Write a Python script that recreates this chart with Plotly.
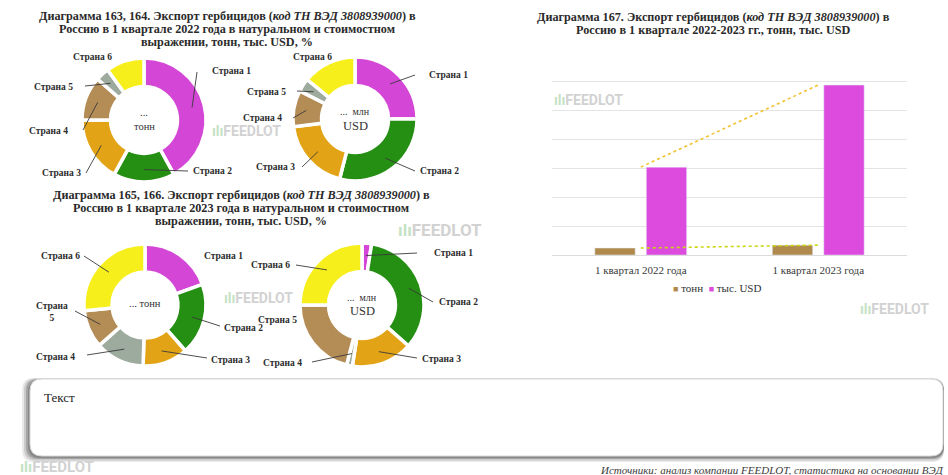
import math
import plotly.graph_objects as go

W, H = 948, 475

# ---------------- data ----------------
countries = ["Страна 1", "Страна 2", "Страна 3", "Страна 4", "Страна 5", "Страна 6"]

share_2022_tonn = [42.0, 16.0, 17.0, 11.5, 3.5, 10.0]
share_2022_usd = [25.0, 29.0, 19.0, 9.5, 3.5, 14.0]
share_2023_tonn = [19.5, 19.0, 12.0, 13.0, 10.0, 26.5]
share_2023_usd = [2.5, 34.0, 16.0, 1.5, 21.0, 25.0]

quarters = ["1 квартал 2022 года", "1 квартал 2023 года"]
volume_tonn = [24, 34]
value_usd = [303, 586]

MAGENTA, GREEN, GOLD, TAN, GREY, YELLOW = (
    "#d447d6", "#248f12", "#e2a416", "#b48c55", "#9daa9e", "#f6ef1c")
colors_a = [MAGENTA, GREEN, GOLD, TAN, GREY, YELLOW]
colors_b = [MAGENTA, GREEN, GOLD, GREY, TAN, YELLOW]
TONN_COLOR, USD_COLOR = "#b08a4c", "#dc4ade"

SERIF = "Liberation Serif"


def px(x):
    return x / W


def py(y):
    return 1 - y / H


fig = go.Figure()
shapes = []
annotations = []

# ---------------- watermarks (drawn first, under everything else) ----------------
marks = [(210, 131, 14), (552, 100, 14), (396, 230, 17), (222, 298, 14),
         (858, 309, 14), (18, 467, 15)]
for x, y, s in marks:
    annotations.append(dict(
        x=px(x), y=py(y), xref="paper", yref="paper",
        text='<span style="color:#c4e3c4">ılı</span>FEEDLOT',
        showarrow=False, xanchor="left", yanchor="middle",
        font=dict(family="Roboto", size=s, color="#d2d2d2", weight=700)))

# ---------------- donuts ----------------
donuts = [
    dict(values=share_2022_tonn, colors=colors_a, cx=144, cy=120, r=62,
         center=[("...", 112, 10.5), ("тонн", 126, 10.5)],
         labels=[(210, 71, "left", (197, 72)),
                 (191, 171, "left", (188, 171)),
                 (83, 173, "right", (86, 173)),
                 (70, 131, "right", (83, 130)),
                 (75, 87, "right", (85, 86)),
                 (92, 57, "center", None)]),
    dict(values=share_2022_usd, colors=colors_a, cx=355, cy=119, r=62,
         center=[("...  млн", 111, 10), ("USD", 126, 12.5)],
         labels=[(427, 75, "left", (415, 75)),
                 (418, 171, "left", (415, 171)),
                 (297, 167, "right", (302, 167)),
                 (284, 118, "right", (293, 118)),
                 (288, 92, "right", (297, 91)),
                 (312, 57, "center", None)]),
    dict(values=share_2023_tonn, colors=colors_b, cx=145, cy=305, r=61,
         center=[("... тонн", 303, 10.5)],
         labels=[(202, 256, "left", None),
                 (222, 328, "left", (220, 326)),
                 (209, 360, "left", (207, 358)),
                 (77, 357, "right", (87, 355)),
                 (52, 312, "center", (75, 311)),
                 (82, 256, "right", (84, 256))]),
    dict(values=share_2023_usd, colors=colors_b, cx=362, cy=305, r=62,
         center=[("...  млн", 297, 10), ("USD", 311, 12.5)],
         labels=[(432, 253, "left", (417, 253)),
                 (437, 302, "left", (433, 302)),
                 (420, 359, "left", (417, 358)),
                 (304, 363, "right", (312, 362)),
                 (299, 320, "right", None),
                 (292, 265, "right", (296, 265))]),
]

for d in donuts:
    cx, cy, r = d["cx"], d["cy"], d["r"]
    fig.add_trace(go.Pie(
        labels=countries, values=d["values"], sort=False,
        direction="clockwise", rotation=0, hole=0.54,
        marker=dict(colors=d["colors"], line=dict(color="white", width=3.5)),
        textinfo="none", hoverinfo="label+percent", showlegend=False,
        domain=dict(x=[px(cx - r), px(cx + r)], y=[py(cy + r), py(cy - r)]),
    ))
    for txt, y, size in d["center"]:
        annotations.append(dict(
            x=px(cx), y=py(y), xref="paper", yref="paper", text=txt,
            showarrow=False, xanchor="center", yanchor="middle",
            font=dict(family=SERIF, size=size, color="#333333")))
    # leader lines end at the middle of each slice's ring
    total = sum(d["values"])
    cum = 0.0
    for name, v, (lx, ly, anchor, start) in zip(countries, d["values"], d["labels"]):
        theta = (cum + v / 2) / total * 2 * math.pi
        cum += v
        mx = cx + 0.8 * r * math.sin(theta)
        my = cy - 0.8 * r * math.cos(theta)
        text = name
        if anchor == "center" and start is not None:
            text = name.replace(" ", "<br>")
        annotations.append(dict(
            x=px(lx), y=py(ly), xref="paper", yref="paper", text=f"<b>{text}</b>",
            showarrow=False, xanchor=anchor, yanchor="middle",
            font=dict(family=SERIF, size=9.5, color="#2b2b2b")))
        if start is not None:
            shapes.append(dict(
                type="line", xref="paper", yref="paper",
                x0=px(start[0]), y0=py(start[1]), x1=px(mx), y1=py(my),
                line=dict(color="#3a3a3a", width=0.9)))

# ---------------- bar chart ----------------
fig.add_trace(go.Bar(
    x=quarters, y=volume_tonn, name="тонн", showlegend=False,
    marker=dict(color=TONN_COLOR), xaxis="x", yaxis="y"))
fig.add_trace(go.Bar(
    x=quarters, y=value_usd, name="тыс. USD", showlegend=False,
    marker=dict(color=USD_COLOR), xaxis="x", yaxis="y"))
fig.add_trace(go.Scatter(
    x=quarters, y=value_usd, mode="lines", showlegend=False, hoverinfo="skip",
    line=dict(color="#f2c12e", width=1.6, dash="dot"), xaxis="x", yaxis="y"))
fig.add_trace(go.Scatter(
    x=quarters, y=volume_tonn, mode="lines", showlegend=False, hoverinfo="skip",
    line=dict(color="#c9d610", width=1.6, dash="dot"), xaxis="x", yaxis="y"))

# compact legend under the bar chart
annotations.append(dict(
    x=px(717), y=py(288), xref="paper", yref="paper",
    text=(f'<span style="color:{TONN_COLOR}; font-size:9px">■</span> тонн  '
          f'<span style="color:{USD_COLOR}; font-size:9px">■</span> тыс. USD'),
    showarrow=False, xanchor="center", yanchor="middle",
    font=dict(family=SERIF, size=11, color="#333333")))

# ---------------- titles ----------------
IT = "<i>код ТН ВЭД 3808939000</i>"
titles = [
    (227, [16, 29, 42], [f"Диаграмма 163, 164. Экспорт гербицидов ({IT}) в",
                         "Россию в 1 квартале 2022 года в натуральном и стоимостном",
                         "выражении, тонн, тыс. USD, %"]),
    (241, [195, 208, 221], [f"Диаграмма 165, 166. Экспорт гербицидов ({IT}) в",
                            "Россию в 1 квартале 2023 года в натуральном и стоимостном",
                            "выражении, тонн, тыс. USD, %"]),
    (713, [17, 30], [f"Диаграмма 167. Экспорт гербицидов ({IT}) в",
                     "Россию в 1 квартале 2022-2023 гг., тонн, тыс. USD"]),
]
for x, ys, lines in titles:
    for y, t in zip(ys, lines):
        annotations.append(dict(
            x=px(x), y=py(y), xref="paper", yref="paper", text=f"<b>{t}</b>",
            showarrow=False, xanchor="center", yanchor="middle", align="center",
            font=dict(family=SERIF, size=12.2, color="#2a2a2a")))


# ---------------- text box ----------------
def rounded_path(x0, y0, x1, y1, rad):
    pts = [
        f"M {px(x0 + rad)},{py(y0)}",
        f"L {px(x1 - rad)},{py(y0)}",
        f"Q {px(x1)},{py(y0)} {px(x1)},{py(y0 + rad)}",
        f"L {px(x1)},{py(y1 - rad)}",
        f"Q {px(x1)},{py(y1)} {px(x1 - rad)},{py(y1)}",
        f"L {px(x0 + rad)},{py(y1)}",
        f"Q {px(x0)},{py(y1)} {px(x0)},{py(y1 - rad)}",
        f"L {px(x0)},{py(y0 + rad)}",
        f"Q {px(x0)},{py(y0)} {px(x0 + rad)},{py(y0)}",
        "Z",
    ]
    return " ".join(pts)


for dx, dy, grow, op in [(-5, 2, 3, 0.15), (-4, 1.5, 2, 0.25), (-3, 1, 1, 0.4), (-2, 1, 0, 0.5)]:
    shapes.append(dict(
        type="path", xref="paper", yref="paper",
        path=rounded_path(30 + dx - grow, 379 + dy - grow, 943 + dx + grow + 3, 457 + dy + grow, 12),
        fillcolor="#6e6e6e", opacity=op, line=dict(width=0), layer="below"))
shapes.append(dict(
    type="path", xref="paper", yref="paper",
    path=rounded_path(30, 379, 943, 456, 12),
    fillcolor="white", line=dict(color="#d8d8d8", width=1), layer="below"))

annotations.append(dict(
    x=px(42), y=py(397), xref="paper", yref="paper", text="Текст",
    showarrow=False, xanchor="left", yanchor="middle",
    font=dict(family=SERIF, size=13, color="#1e1e1e")))
annotations.append(dict(
    x=px(946), y=py(470), xref="paper", yref="paper",
    text="<i>Источники: анализ компании FEEDLOT, статистика на основании ВЭД</i>",
    showarrow=False, xanchor="right", yanchor="middle",
    font=dict(family=SERIF, size=11, color="#3c3c3c")))

fig.update_layout(
    width=W, height=H, margin=dict(l=0, r=0, t=0, b=0),
    paper_bgcolor="white", plot_bgcolor="white", showlegend=False,
    barmode="group", bargap=0.42, bargroupgap=0.216,
    xaxis=dict(domain=[px(552), px(907)], type="category", showgrid=False,
               showline=False, ticks="", ticklabelstandoff=7,
               tickfont=dict(family=SERIF, size=11, color="#3a3a3a"),
               fixedrange=True),
    yaxis=dict(domain=[py(255), py(52)], range=[0, 700], dtick=100,
               showticklabels=False, gridcolor="#e4e4e4", gridwidth=1,
               zeroline=True, zerolinecolor="#dcdcdc", zerolinewidth=1,
               showline=False, ticks="", fixedrange=True),
    shapes=shapes,
    annotations=annotations,
)

fig.write_html("out.html")
